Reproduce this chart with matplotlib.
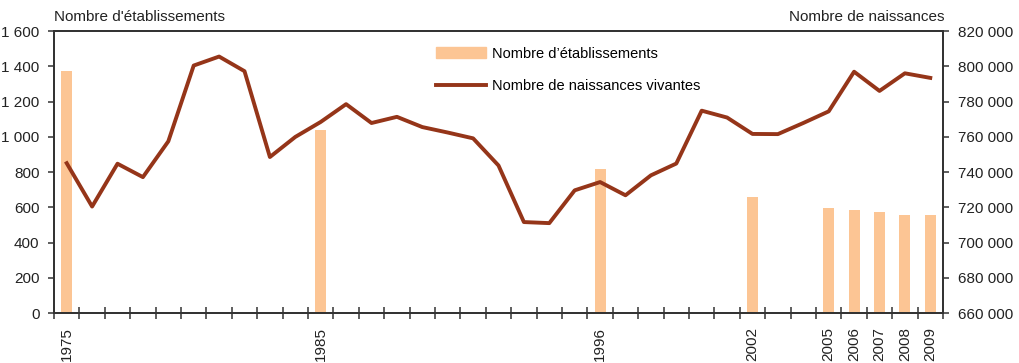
import matplotlib
matplotlib.use("Agg")
import matplotlib.pyplot as plt
from matplotlib.patches import Patch
from matplotlib.lines import Line2D
from matplotlib.ticker import FuncFormatter, FixedLocator

plt.rcParams["font.family"] = ["Liberation Sans", "DejaVu Sans"]

years = list(range(1975, 2010))
births = [
    745000, 720400, 744700, 737100, 757400, 800400, 805500, 797200, 748500, 759900,
    768400, 778500, 767800, 771300, 765500, 762400, 759100, 743700, 711600, 711000,
    729600, 734300, 726800, 738100, 744800, 774800, 770900, 761600, 761500, 767800,
    774400, 796900, 786000, 796000, 793400,
]
bar_years = [1975, 1985, 1996, 2002, 2005, 2006, 2007, 2008, 2009]
establishments = [1375, 1040, 815, 660, 595, 585, 575, 555, 555]

BAR_COLOR = "#fcc594"
LINE_COLOR = "#953519"
AXIS_COLOR = "#333333"
TEXT_COLOR = "#222222"
FS = 11


def spaced(v, _pos=None):
    return f"{v:,.0f}".replace(",", " ")


fig = plt.figure(figsize=(10.19, 3.63), dpi=100)
ax = fig.add_axes([0.053, 0.1377, 0.8724, 0.7769])
ax2 = ax.twinx()

idx = {y: i for i, y in enumerate(years)}
bar_x = [idx[y] for y in bar_years]
ax.bar(bar_x, establishments, width=0.43, color=BAR_COLOR, zorder=2)
ax2.plot(range(len(years)), births, color=LINE_COLOR, lw=2.8, zorder=3)

ax.set_xlim(-0.5, len(years) - 0.5)
ax.set_ylim(0, 1600)
ax2.set_ylim(660000, 820000)

ax.set_yticks(range(0, 1601, 200))
ax.yaxis.set_major_formatter(FuncFormatter(spaced))
ax2.set_yticks(range(660000, 820001, 20000))
ax2.yaxis.set_major_formatter(FuncFormatter(spaced))

# tick marks between years, labels only under the bar years
ax.xaxis.set_major_locator(FixedLocator([i - 0.5 for i in range(len(years) + 1)]))
ax.xaxis.set_major_formatter(FuncFormatter(lambda v, p: ""))
ax.xaxis.set_minor_locator(FixedLocator(bar_x))
ax.set_xticklabels([str(y) for y in bar_years], minor=True, rotation=90)
ax.tick_params(axis="x", which="major", direction="inout", length=8, width=1.1, color=AXIS_COLOR)
ax.tick_params(axis="x", which="minor", length=0, pad=10, labelsize=FS, labelcolor=TEXT_COLOR)

for a in (ax, ax2):
    a.tick_params(axis="y", direction="out", length=4.5, width=1.1, color=AXIS_COLOR,
                  labelsize=FS, labelcolor=TEXT_COLOR, pad=6)
    for s in a.spines.values():
        s.set_color(AXIS_COLOR)
        s.set_linewidth(1.3)

fig.text(0.053, 0.952, "Nombre d'établissements", ha="left", va="center", fontsize=FS, color=TEXT_COLOR)
fig.text(0.9264, 0.952, "Nombre de naissances", ha="right", va="center", fontsize=FS, color=TEXT_COLOR)

handles = [
    Patch(color=BAR_COLOR, label="Nombre d’établissements"),
    Line2D([], [], color=LINE_COLOR, lw=2.8, label="Nombre de naissances vivantes"),
]
ax2.legend(handles=handles, loc="upper left", bbox_to_anchor=(0.43, 0.945), frameon=False,
           fontsize=10.5, handlelength=3.4, handletextpad=0.45, labelspacing=1.3,
           borderaxespad=0, borderpad=0)

fig.savefig("out.png", dpi=100)
